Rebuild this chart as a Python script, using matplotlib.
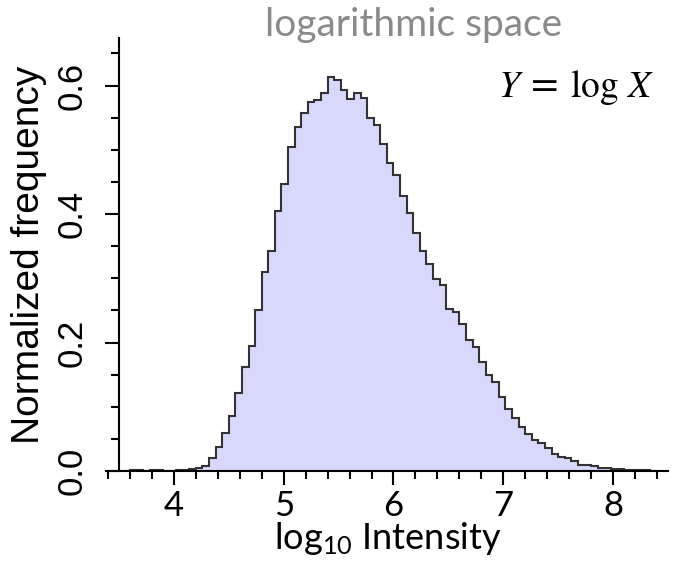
import numpy as np
import matplotlib
matplotlib.use('Agg')
import matplotlib.pyplot as plt
from matplotlib.ticker import MultipleLocator

plt.rcParams['mathtext.default'] = 'regular'

# histogram of log10 intensity, bin width 0.06 starting at 3.54
bin_start = 3.54
bin_width = 0.06
freq = [0.0005, 0.001, 0.0008, 0.0004, 0.0008, 0.001, 0.0005, 0.0006, 0.001,
        0.0015, 0.0025, 0.005, 0.0075,
        0.0196, 0.0377, 0.0594, 0.0853, 0.121, 0.162, 0.195, 0.251, 0.309,
        0.343, 0.405, 0.447, 0.505,
        0.536, 0.557, 0.575, 0.578, 0.588, 0.614, 0.609, 0.593, 0.579, 0.589,
        0.580, 0.549, 0.539, 0.509,
        0.479, 0.460, 0.428, 0.402, 0.371, 0.343, 0.322, 0.299, 0.290, 0.252,
        0.248, 0.229, 0.204, 0.193,
        0.169, 0.149, 0.138, 0.115, 0.096, 0.082, 0.069, 0.057, 0.049, 0.043,
        0.035, 0.026, 0.022, 0.020, 0.0155,
        0.010, 0.009, 0.0085, 0.005, 0.004, 0.003, 0.0025, 0.002, 0.0015,
        0.001, 0.001, 0.0007]
x_ticks = [4, 5, 6, 7, 8]
y_ticks = [0.0, 0.2, 0.4, 0.6]

edges = bin_start + bin_width * np.arange(len(freq) + 1)

fig = plt.figure(figsize=(6.73, 5.75), dpi=100)
ax = fig.add_axes([0.1605, 0.1809, 0.832, 0.753])

ax.stairs(freq, edges, fill=True, color='#d8d8fd', linewidth=0)
ax.stairs(freq, edges, color='#333333', linewidth=1.5, baseline=None)

ax.set_xlim(3.4, 8.5)
ax.set_ylim(0, 0.674)
ax.spines['top'].set_visible(False)
ax.spines['right'].set_visible(False)
ax.spines['left'].set_position(('data', 3.5))
for s in ['left', 'bottom']:
    ax.spines[s].set_linewidth(1.5)

ax.set_xticks(x_ticks)
ax.set_yticks(y_ticks)
ax.xaxis.set_minor_locator(MultipleLocator(0.2))
ax.yaxis.set_minor_locator(MultipleLocator(0.05))
ax.tick_params(which='major', length=10, width=1.5, direction='out')
ax.tick_params(which='minor', length=6, width=1.5, direction='out')
ax.tick_params(axis='x', which='major', pad=4)
ax.tick_params(axis='y', which='major', pad=12)

for lab in ax.get_xticklabels():
    lab.set_fontfamily('Lato')
    lab.set_fontsize(25)
ax.set_yticklabels(['%.1f' % v for v in y_ticks], rotation=90, va='center',
                   fontsize=25, fontfamily='Liberation Sans')

ax.set_ylabel('Normalized frequency', fontsize=28, fontfamily='Liberation Sans',
              labelpad=6)
ax.set_xlabel(r'log$_{10}$ Intensity', fontsize=26, fontfamily='Lato', labelpad=-2)

fig.text(0.614, 0.988, 'logarithmic space', ha='center', va='top', fontsize=28,
         color='#8a8a8a', fontfamily='Lato')
ax.text(0.975, 0.93, r'$\mathit{Y}\,=\,\log\,\mathit{X}$', transform=ax.transAxes,
        ha='right', va='top', fontsize=27, math_fontfamily='stix')

plt.savefig('out.png', dpi=100)
